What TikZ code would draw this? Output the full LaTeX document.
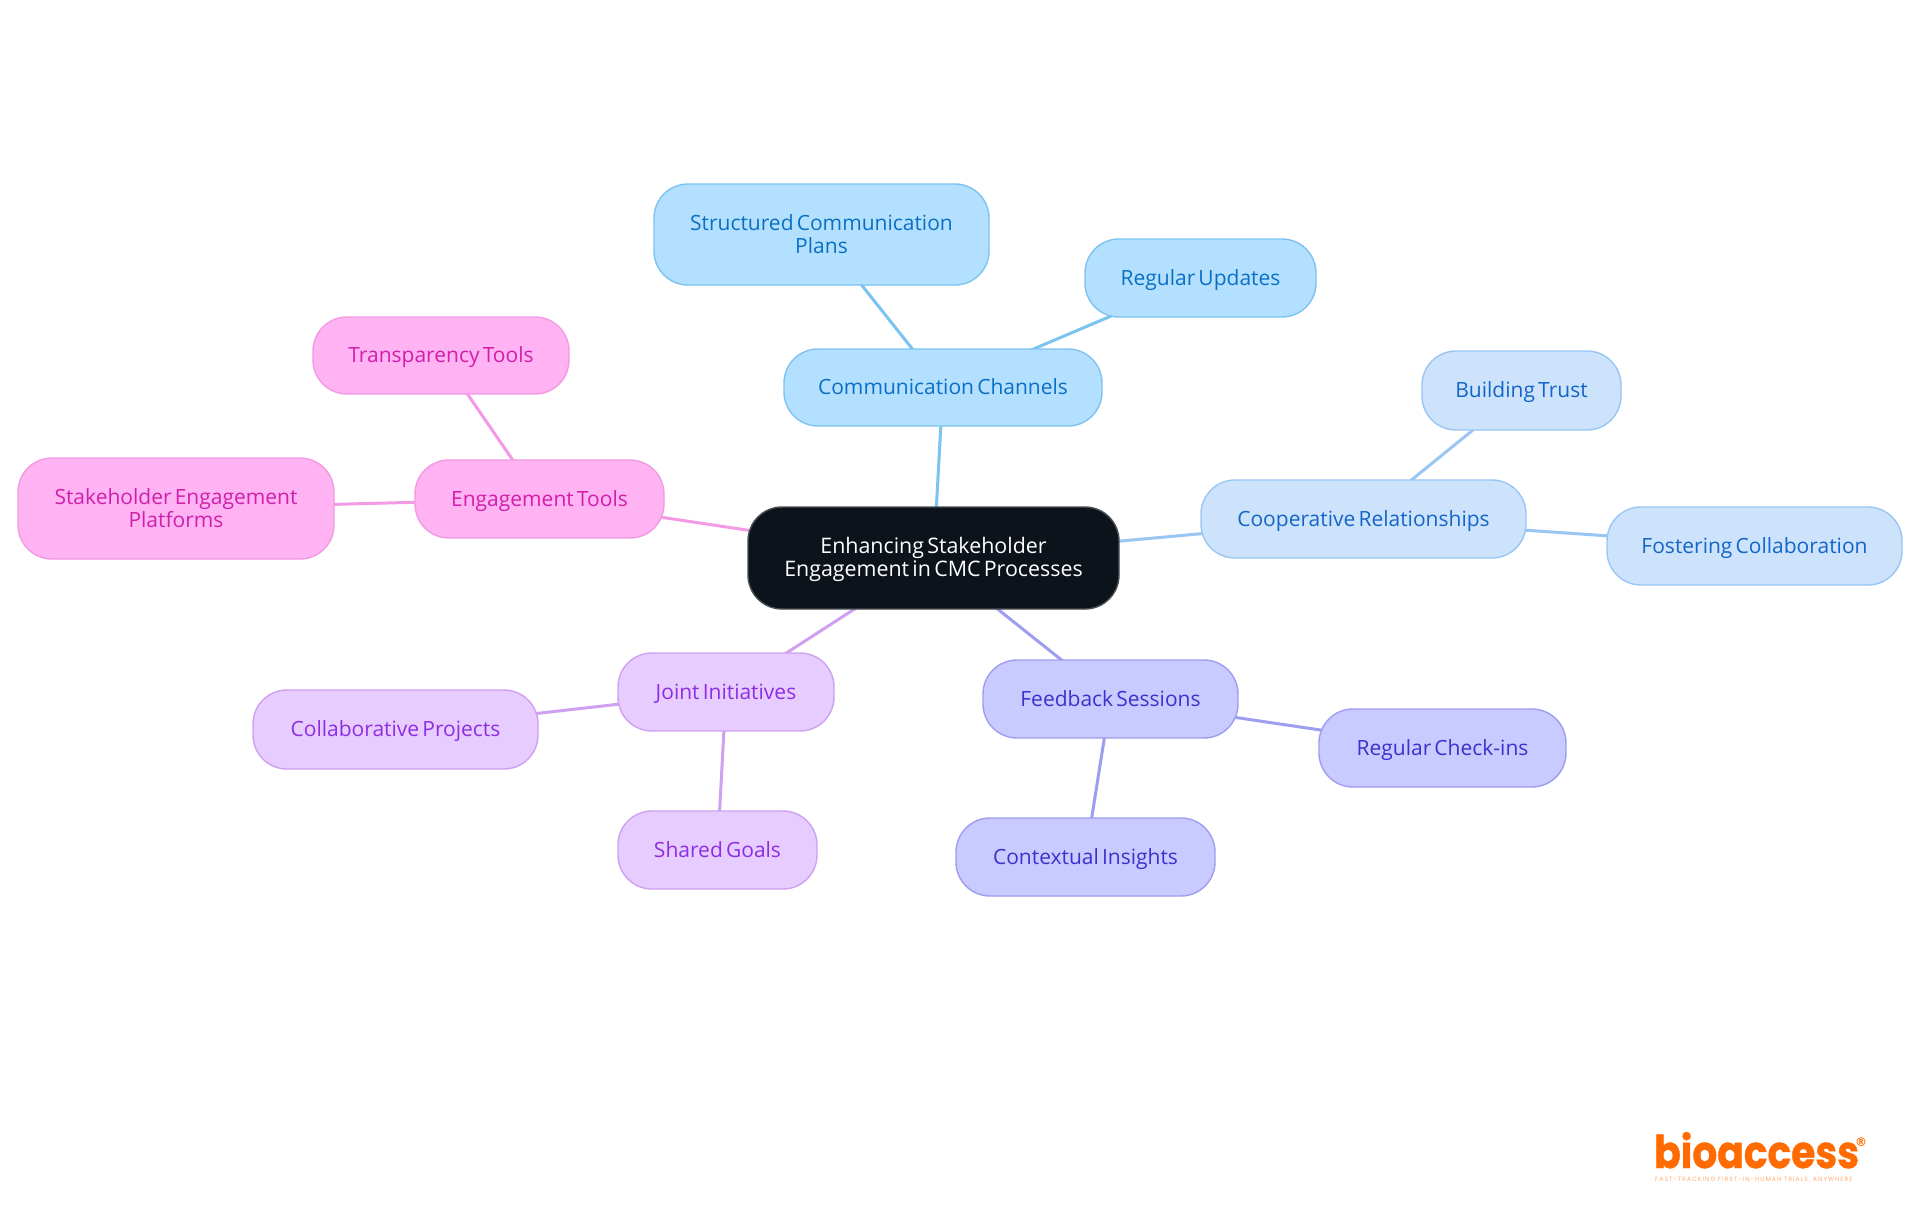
\documentclass[tikz,border=0pt]{standalone}
\usepackage{fontspec}
\setmainfont[WordSpace=0.58]{Open Sans}
\newfontfamily\logofont{Poppins}
\newfontfamily\regfont{DejaVu Sans}
\usetikzlibrary{backgrounds}
\definecolor{cA}{HTML}{B3E0FF}\definecolor{sA}{HTML}{7DC3F0}\definecolor{tA}{HTML}{0B70C4}
\definecolor{cB}{HTML}{CCE3FB}\definecolor{sB}{HTML}{99C6F2}\definecolor{tB}{HTML}{1565C8}
\definecolor{cC}{HTML}{C9CAFF}\definecolor{sC}{HTML}{9D9EF0}\definecolor{tC}{HTML}{3B32CC}
\definecolor{cD}{HTML}{E6CCFF}\definecolor{sD}{HTML}{CFA0F0}\definecolor{tD}{HTML}{8E2DE2}
\definecolor{cE}{HTML}{FFB3F2}\definecolor{sE}{HTML}{F29AE3}\definecolor{tE}{HTML}{D01FAD}
\definecolor{cR}{HTML}{0C131A}\definecolor{logoC}{HTML}{FF6B00}
\lineskiplimit=-20pt
\newcommand{\ms}{\rule[-5.5pt]{0pt}{25.5pt}}
\tikzset{
 x=1pt,y=-1pt,
 mm/.style={rounded corners=34pt,line width=1.4pt,inner sep=0pt,align=center,font=\fontsize{21}{23}\selectfont},
 root/.style={mm,fill=cR,draw=cR!75!white,text=white,font=\fontsize{21.4}{23}\selectfont},
 ga/.style={mm,fill=cA,draw=sA,text=tA},
 gb/.style={mm,fill=cB,draw=sB,text=tB},
 gc/.style={mm,fill=cC,draw=sC,text=tC},
 gd/.style={mm,fill=cD,draw=sD,text=tD},
 ge/.style={mm,fill=cE,draw=sE,text=tE},
 edge/.style={line width=3pt},
}
\begin{document}
\begin{tikzpicture}
\useasboundingbox (0,0) rectangle (1920,1215);
\node[root,minimum width=371pt,minimum height=102pt] (root) at (933.5,558) {\ms Enhancing Stakeholder\\\ms Engagement in CMC Processes};
\node[ga,minimum width=318pt,minimum height=77pt] (comm) at (943,387.5) {\ms Communication Channels};
\node[ga,minimum width=335pt,minimum height=101pt] (plans) at (821.5,234.5) {\ms Structured Communication\\\ms Plans};
\node[ga,minimum width=231pt,minimum height=78pt] (updates) at (1200.5,278) {\ms Regular Updates};
\node[gb,minimum width=325pt,minimum height=78pt] (coop) at (1363.5,519) {\ms Cooperative Relationships};
\node[gb,minimum width=199pt,minimum height=79pt] (trust) at (1521.5,390.5) {\ms Building Trust};
\node[gb,minimum width=295pt,minimum height=78pt] (foster) at (1754.5,546) {\ms Fostering Collaboration};
\node[gc,minimum width=255pt,minimum height=78pt] (feed) at (1110.5,699) {\ms Feedback Sessions};
\node[gc,minimum width=247pt,minimum height=78pt] (check) at (1442.5,748) {\ms Regular Check-ins};
\node[gc,minimum width=259pt,minimum height=78pt] (insight) at (1085.5,857) {\ms Contextual Insights};
\node[gd,minimum width=216pt,minimum height=78pt] (joint) at (726,692) {\ms Joint Initiatives};
\node[gd,minimum width=285pt,minimum height=79pt] (collab) at (395.5,729.5) {\ms Collaborative Projects};
\node[gd,minimum width=199pt,minimum height=78pt] (goals) at (717.5,850) {\ms Shared Goals};
\node[ge,minimum width=249pt,minimum height=78pt] (tools) at (539.5,499) {\ms Engagement Tools};
\node[ge,minimum width=256pt,minimum height=77pt] (transp) at (441,355.5) {\ms Transparency Tools};
\node[ge,minimum width=316pt,minimum height=101pt] (platforms) at (176,508.5) {\ms Stakeholder Engagement\\\ms Platforms};
\begin{scope}[on background layer]
\fill[white] (0,0) rectangle (1920,1215);
\draw[edge,sA] (root.center) -- (comm.center);
\draw[edge,sA] (comm.center) -- (plans.center);
\draw[edge,sA] (comm.center) -- (updates.center);
\draw[edge,sB] (root.center) -- (coop.center);
\draw[edge,sB] (coop.center) -- (trust.center);
\draw[edge,sB] (coop.center) -- (foster.center);
\draw[edge,sC] (root.center) -- (feed.center);
\draw[edge,sC] (feed.center) -- (check.center);
\draw[edge,sC] (feed.center) -- (insight.center);
\draw[edge,sD] (root.center) -- (joint.center);
\draw[edge,sD] (joint.center) -- (collab.center);
\draw[edge,sD] (joint.center) -- (goals.center);
\draw[edge,sE] (root.center) -- (tools.center);
\draw[edge,sE] (tools.center) -- (transp.center);
\draw[edge,sE] (tools.center) -- (platforms.center);
\end{scope}
\node[anchor=base west,inner sep=0pt,text=logoC,font=\logofont\bfseries\fontsize{45}{45}\selectfont] (logo) at (1654,1168) {\scalebox{0.87}[1]{\addfontfeature{FakeBold=1}bioaccess}};
\node[anchor=center,inner sep=0pt,text=logoC,font=\regfont\bfseries\fontsize{12}{12}\selectfont] (reg) at (1861,1142) {®};
\node[anchor=base west,inner sep=0pt,text=logoC!55!white,font=\logofont\fontsize{6.2}{7}\selectfont] (tag) at (1655,1181) {\addfontfeature{LetterSpace=16}FAST-TRACKING FIRST-IN-HUMAN TRIALS, ANYWHERE};
\end{tikzpicture}
\end{document}
